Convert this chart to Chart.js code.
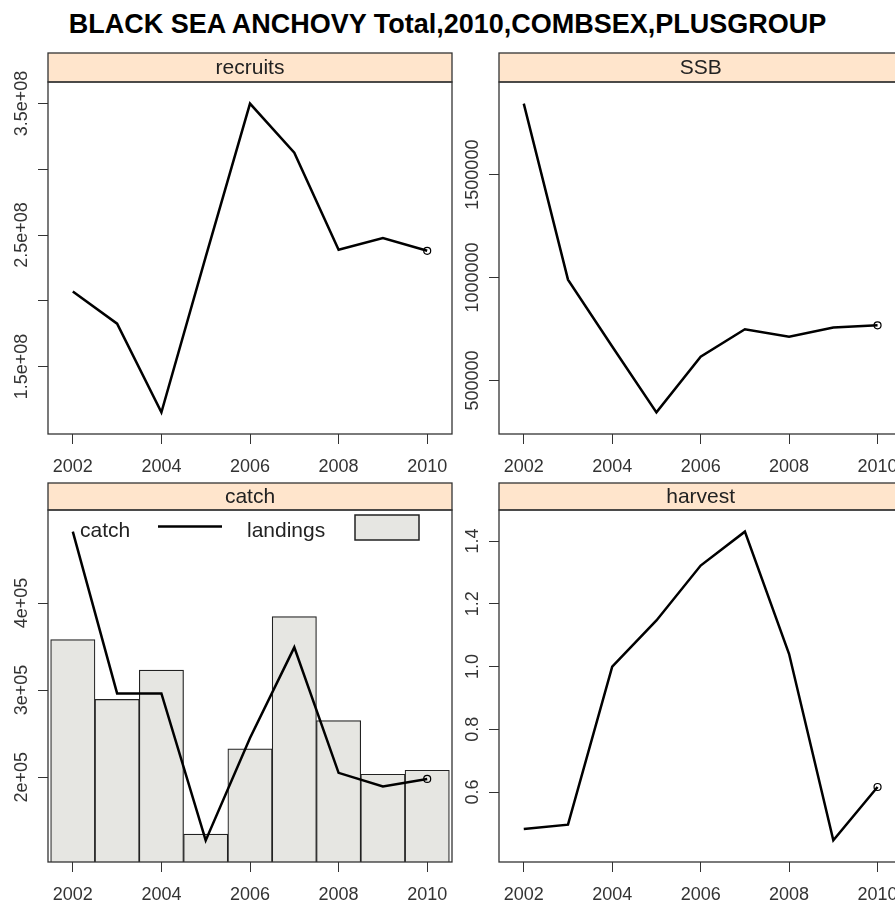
<!DOCTYPE html>
<html>
<head>
<meta charset="utf-8">
<script src="https://cdn.jsdelivr.net/npm/chart.js@4.4.1/dist/chart.umd.min.js"></script>
<style>
  html, body { margin: 0; padding: 0; background: #fff; overflow: hidden; width: 895px; height: 903px; }
  #title { position: absolute; left: 0; top: 8px; width: 895px; text-align: center;
           font: bold 27px 'Liberation Sans', Arial, sans-serif; line-height: 32px; color: #000; }
  canvas { position: absolute; }
</style>
</head>
<body>
<div id="title">BLACK SEA ANCHOVY Total,2010,COMBSEX,PLUSGROUP</div>
<canvas id="pRecruits" width="460" height="436" style="left:0;top:40px"></canvas>
<canvas id="pSSB" width="450" height="436" style="left:460px;top:40px"></canvas>
<canvas id="pCatch" width="460" height="427" style="left:0;top:476px"></canvas>
<canvas id="pHarvest" width="450" height="427" style="left:460px;top:476px"></canvas>
<script>
// ---- data ----
const years = [2002, 2003, 2004, 2005, 2006, 2007, 2008, 2009, 2010];
const recruits = [2.07e8, 1.826e8, 1.151e8, 2.334e8, 3.5e8, 3.126e8, 2.388e8, 2.477e8, 2.38e8];
const ssb = [1845000, 990000, 665000, 345000, 615000, 749000, 712000, 757000, 768000];
const catchVals = [482000, 296200, 296200, 127400, 245000, 349100, 205000, 189300, 198000];
const landings = [358000, 289300, 322900, 134600, 232600, 384300, 265000, 203400, 208000];
const harvest = [0.482, 0.496, 1.0, 1.147, 1.322, 1.43, 1.04, 0.446, 0.616];

// ---- tick values and labels ----
const xTicks = [2002, 2004, 2006, 2008, 2010];
const recruitsTicks = [1.5e8, 2.0e8, 2.5e8, 3.0e8, 3.5e8];
const recruitsLabels = ['1.5e+08', '', '2.5e+08', '', '3.5e+08'];
const ssbTicks = [500000, 1000000, 1500000];
const ssbLabels = ['500000', '1000000', '1500000'];
const catchTicks = [200000, 300000, 400000];
const catchLabels = ['2e+05', '3e+05', '4e+05'];
const harvestTicks = [0.6, 0.8, 1.0, 1.2, 1.4];
const harvestLabels = ['0.6', '0.8', '1.0', '1.2', '1.4'];
const legendLabels = ['catch', 'landings'];

const FONT = "'Liberation Sans', Arial, sans-serif";
const INK = '#333';

// Strip header, panel frame, rotated y labels and the optional key
const panelPlugin = {
  id: 'panel',
  afterDraw(chart, args, o) {
    const { ctx, chartArea: a } = chart;
    ctx.save();
    // strip
    ctx.fillStyle = '#ffe5cc';
    ctx.fillRect(a.left, o.stripTop, a.right - a.left, a.top - o.stripTop);
    ctx.strokeStyle = INK;
    ctx.lineWidth = 1.3;
    ctx.strokeRect(a.left, o.stripTop, a.right - a.left, a.top - o.stripTop);
    ctx.strokeRect(a.left, a.top, a.right - a.left, a.bottom - a.top);
    ctx.fillStyle = '#222';
    ctx.font = '21px ' + FONT;
    ctx.textAlign = 'center';
    ctx.textBaseline = 'middle';
    ctx.fillText(o.strip, (a.left + a.right) / 2, (o.stripTop + a.top) / 2 + 1);
    // rotated y tick labels
    const ys = chart.scales.y;
    ctx.font = '18px ' + FONT;
    ctx.fillStyle = INK;
    o.yTicks.forEach((v, i) => {
      const lab = o.yLabels[i];
      if (!lab) return;
      ctx.save();
      ctx.translate(a.left - 26, ys.getPixelForValue(v));
      ctx.rotate(-Math.PI / 2);
      ctx.fillText(lab, 0, 0);
      ctx.restore();
    });
    // key (catch panel)
    if (o.legend) {
      ctx.font = '21px ' + FONT;
      ctx.fillStyle = '#222';
      ctx.textAlign = 'left';
      ctx.textBaseline = 'alphabetic';
      ctx.fillText(o.legend[0], a.left + 32, a.top + 27);
      ctx.strokeStyle = '#000';
      ctx.lineWidth = 2.5;
      ctx.beginPath();
      ctx.moveTo(a.left + 110, a.top + 16.5);
      ctx.lineTo(a.left + 174, a.top + 16.5);
      ctx.stroke();
      ctx.fillText(o.legend[1], a.left + 199, a.top + 27);
      ctx.fillStyle = '#e6e6e2';
      ctx.fillRect(a.left + 307, a.top + 5, 64, 25);
      ctx.strokeStyle = '#222';
      ctx.lineWidth = 1.5;
      ctx.strokeRect(a.left + 307, a.top + 5, 64, 25);
    }
    ctx.restore();
  }
};

function lineSet(values) {
  const last = values.length - 1;
  return {
    type: 'line',
    data: years.map((x, i) => ({ x: x, y: values[i] })),
    borderColor: '#000',
    borderWidth: 2.5,
    tension: 0,
    fill: false,
    pointRadius: c => (c.dataIndex === last ? 3.5 : 0),
    pointBorderWidth: 1.2,
    pointBorderColor: '#000',
    pointBackgroundColor: 'rgba(0,0,0,0)',
    order: 0
  };
}

function makePanel(id, cfg) {
  const canvas = document.getElementById(id);
  const datasets = [lineSet(cfg.values)];
  if (cfg.bars) {
    datasets.push({
      type: 'bar',
      data: years.map((x, i) => ({ x: x, y: cfg.bars[i] })),
      backgroundColor: '#e6e6e2',
      borderColor: '#222',
      borderWidth: 1.2,
      categoryPercentage: 1,
      barPercentage: 1,
      order: 1
    });
  }
  return new Chart(canvas, {
    type: 'line',
    data: { datasets },
    plugins: [panelPlugin],
    options: {
      responsive: false,
      animation: false,
      events: [],
      layout: { padding: { left: 0, top: cfg.areaTop, right: cfg.padRight, bottom: 0 } },
      plugins: {
        legend: { display: false },
        tooltip: { enabled: false },
        panel: {
          strip: cfg.strip, stripTop: cfg.stripTop,
          yTicks: cfg.yTicks, yLabels: cfg.yLabels, legend: cfg.legend || null
        }
      },
      scales: {
        x: {
          type: 'linear',
          offset: false,
          min: 2001.44, max: 2010.56,
          afterBuildTicks: s => { s.ticks = xTicks.map(v => ({ value: v })); },
          afterFit: s => { s.height = cfg.xHeight; },
          ticks: { font: { size: 18, family: FONT }, color: INK, padding: 12, maxRotation: 0,
                   autoSkip: false, callback: v => String(v) },
          grid: { offset: false, drawOnChartArea: false, drawTicks: true, tickLength: 10, color: INK, lineWidth: 1 },
          border: { display: false }
        },
        y: {
          type: 'linear',
          min: cfg.yMin, max: cfg.yMax,
          afterBuildTicks: s => { s.ticks = cfg.yTicks.map(v => ({ value: v })); },
          afterFit: s => { s.width = cfg.yWidth; },
          ticks: { display: false },
          grid: { drawOnChartArea: false, drawTicks: true, tickLength: 10, color: INK, lineWidth: 1 },
          border: { display: false }
        }
      }
    }
  });
}

makePanel('pRecruits', {
  values: recruits, strip: 'recruits', stripTop: 13, areaTop: 42, padRight: 8,
  xHeight: 42, yWidth: 48, yMin: 0.9866e8, yMax: 3.664e8,
  yTicks: recruitsTicks, yLabels: recruitsLabels
});
makePanel('pSSB', {
  values: ssb, strip: 'SSB', stripTop: 13, areaTop: 42, padRight: 7,
  xHeight: 42, yWidth: 39, yMin: 240000, yMax: 1950000,
  yTicks: ssbTicks, yLabels: ssbLabels
});
makePanel('pCatch', {
  values: catchVals, bars: landings, strip: 'catch', stripTop: 7, areaTop: 34, padRight: 8,
  xHeight: 41, yWidth: 48, yMin: 102600, yMax: 506800,
  yTicks: catchTicks, yLabels: catchLabels, legend: legendLabels
});
makePanel('pHarvest', {
  values: harvest, strip: 'harvest', stripTop: 7, areaTop: 34, padRight: 7,
  xHeight: 41, yWidth: 39, yMin: 0.377, yMax: 1.499,
  yTicks: harvestTicks, yLabels: harvestLabels
});
</script>
</body>
</html>
